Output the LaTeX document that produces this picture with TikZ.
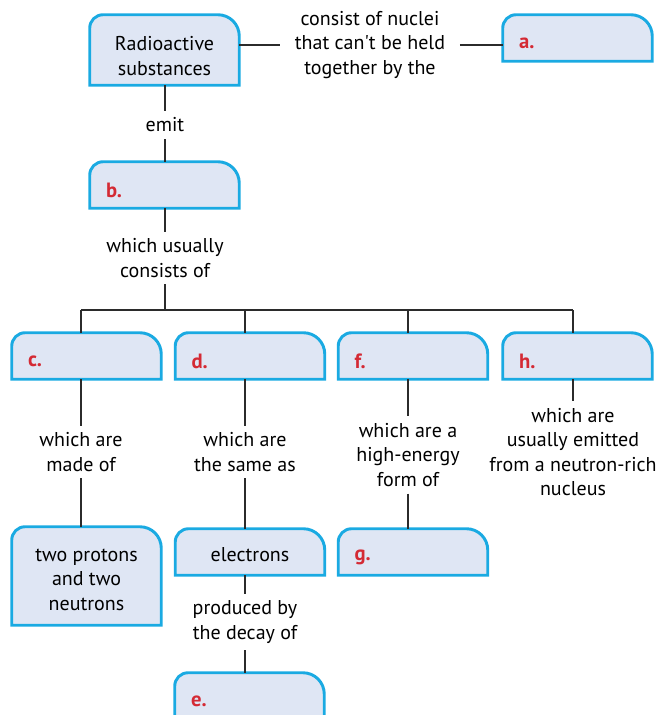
\documentclass[tikz,border=0pt]{standalone}
\usepackage{fontspec}
\setmainfont{PT Sans}
\usepackage{tikz}
\usetikzlibrary{calc, backgrounds}
\definecolor{boxfill}{HTML}{DFE6F4}
\definecolor{boxedge}{HTML}{1AAAE2}
\definecolor{letterred}{HTML}{D42A34}
\definecolor{linkgray}{HTML}{2B2B2B}

\begin{document}
\begin{tikzpicture}[x=0.75pt, y=-0.75pt,
    font=\fontsize{15}{18.4}\selectfont,
    conbox/.style={minimum width=111.75pt, minimum height=34.5pt, inner sep=0pt, align=center},
    boxletter/.style={anchor=west, inner sep=0pt, text=letterred, font=\fontsize{15.5}{16}\selectfont\bfseries},
    linktext/.style={align=center, inner sep=5pt},
    link/.style={draw=linkgray, line width=1pt}]
    % 固定画面尺寸
    \useasboundingbox (0,0) rectangle (660,715);

    % --- 宏：框的外形（上方两个圆角） ---
    \newcommand{\boxoutline}[1]{
        \draw[fill=boxfill, draw=boxedge, line width=2.2pt]
            (#1.south west) -- ([yshift=-10pt]#1.north west)
            arc[start angle=180, end angle=90, radius=10pt]
            -- ([xshift=-16pt]#1.north east)
            arc[start angle=90, end angle=0, radius=16pt]
            -- (#1.south east) -- cycle;
    }
    \def\topstrut{\rule{0pt}{15pt}}

    % --- 概念框 ---
    \node[conbox, minimum height=52.5pt] (radio) at (164.5,50) {\rule{0pt}{20pt}Radioactive\\substances};
    \node[conbox] (boxa) at (577.5,38) {};
    \node[conbox] (boxb) at (164.5,185) {};
    \node[conbox] (boxc) at (86.5,356) {};
    \node[conbox] (boxd) at (250,356) {};
    \node[conbox] (boxf) at (413,356) {};
    \node[conbox] (boxh) at (577.5,356) {};
    \node[conbox, minimum height=73.5pt] (protons) at (86.5,576) {\topstrut two protons\\and two\\neutrons};
    \node[conbox] (electrons) at (250,552) {\topstrut electrons};
    \node[conbox] (boxg) at (413,552) {};
    \node[conbox] (boxe) at (249.5,696) {};

    \begin{scope}[on background layer]
        \foreach \b in {radio, boxa, boxb, boxc, boxd, boxf, boxh, protons, electrons, boxg, boxe}
            \boxoutline{\b};
    \end{scope}

    % --- 空白框里的字母 ---
    \foreach \b/\l in {boxa/a, boxb/b, boxc/c, boxd/d, boxf/f, boxh/h, boxg/g, boxe/e}
        \node[boxletter] (letter\l) at ([xshift=12pt, yshift=-4pt]\b.west) {\l.};

    % --- 连接文字 ---
    \node[linktext, inner xsep=11pt] (heldtext) at (370,45) {consist of nuclei\\that can\textquotesingle t be held\\together by the};
    \node[linktext] (emittext) at (165,125) {emit};
    \node[linktext] (usualtext) at (165,258) {which usually\\consists of};
    \node[linktext] (ctext) at (81,452) {which are\\made of};
    \node[linktext] (dtext) at (245,452) {which are\\the same as};
    \node[linktext] (ftext) at (408,455) {which are a\\high-energy\\form of};
    \node[linktext] (htext) at (573,452) {which are\\usually emitted\\from a neutron-rich\\nucleus};
    \node[linktext] (decaytext) at (245,622) {produced by\\the decay of};

    % --- 连线 ---
    \coordinate (busl) at (81,310);
    \coordinate (busr) at (573,310);
    \draw[link] (radio.east |- heldtext) -- (heldtext.west);
    \draw[link] (heldtext.east) -- (heldtext -| boxa.west);
    \draw[link] (emittext |- radio.south) -- (emittext.north);
    \draw[link] (emittext.south) -- (emittext |- boxb.north);
    \draw[link] (usualtext |- boxb.south) -- (usualtext.north);
    \draw[link] (usualtext.south) -- (usualtext |- busl);
    \draw[link] (busl) -- (busr);
    \foreach \b/\t in {boxc/ctext, boxd/dtext, boxf/ftext, boxh/htext} {
        \draw[link] (\t |- busl) -- (\t |- \b.north);
        \draw[link] (\t |- \b.south) -- (\t.north);
    }
    \draw[link] (ctext.south) -- (ctext |- protons.north);
    \draw[link] (dtext.south) -- (dtext |- electrons.north);
    \draw[link] (ftext.south) -- (ftext |- boxg.north);
    \draw[link] (decaytext |- electrons.south) -- (decaytext.north);
    \draw[link] (decaytext.south) -- (decaytext |- boxe.north);

\end{tikzpicture}
\end{document}
